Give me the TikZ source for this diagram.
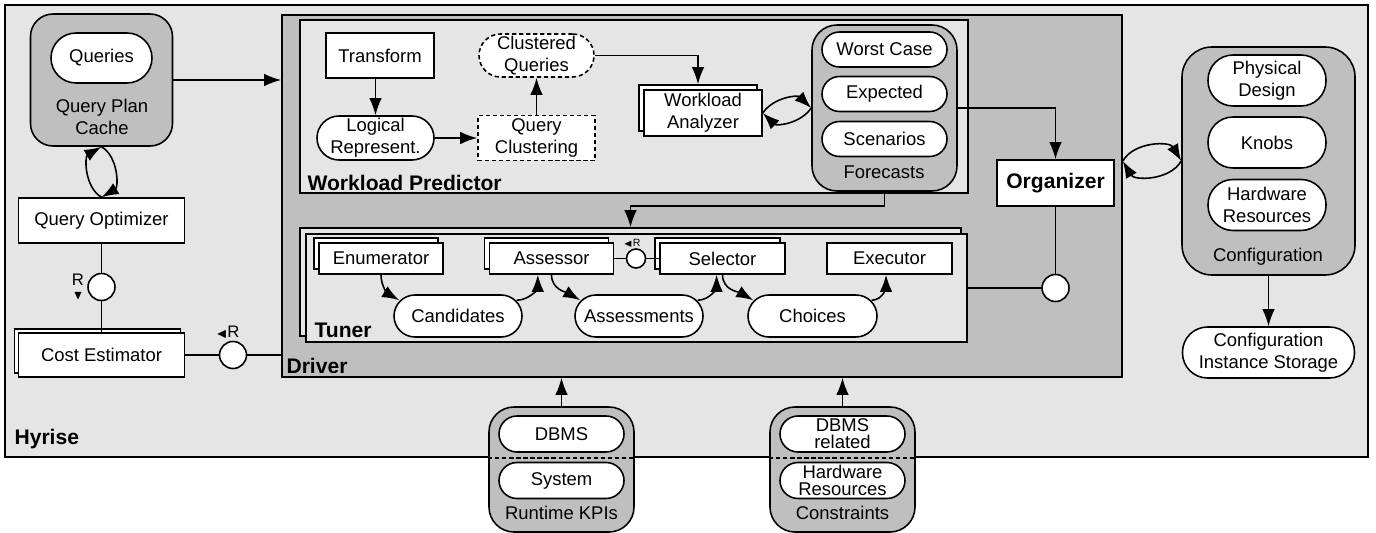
\documentclass[tikz,border=0pt]{standalone}
\usepackage{amsmath,amssymb}
\usepackage{fontspec}
\setmainfont{Liberation Sans}
\usepackage{tikz}
\usetikzlibrary{arrows.meta, positioning, calc, shadows}
\tikzset{
  areabox/.style={
    draw, line width=0.9pt, fill=black!10, inner sep=0pt
  },
  drivebox/.style={
    draw, line width=0.9pt, fill=black!25, inner sep=0pt
  },
  arealabel/.style={
    font=\fontsize{12}{14}\selectfont\bfseries, inner sep=0pt, anchor=base west
  },
  holder/.style={
    draw, line width=0.9pt, fill=black!25, rounded corners=#1, inner sep=0pt
  },
  holder/.default=0.5cm,
  holderlabel/.style={
    font=\fontsize{10.5}{12.3}\selectfont, align=center, inner sep=0pt
  },
  compbox/.style={
    draw, line width=0.9pt, fill=white, align=center, inner sep=1pt,
    font=\fontsize{10.5}{12.3}\selectfont
  },
  stackbox/.style={
    compbox, copy shadow={shadow xshift=-#1, shadow yshift=#1}
  },
  stackbox/.default=0.1cm,
  pill/.style={
    draw, line width=0.9pt, fill=white, align=center, inner sep=1pt,
    rounded corners=#1, font=\fontsize{10.5}{12.3}\selectfont
  },
  pill/.default=0.42cm,
  socket/.style={
    circle, draw, line width=0.9pt, fill=white, inner sep=0pt, minimum size=#1
  },
  socket/.default=0.54cm,
  reqmark/.style={
    font=\fontsize{9.5}{11}\selectfont, align=center, inner sep=0pt
  },
  flow/.style={
    -{Latex[length=3.4mm, width=2.5mm]}, line width=0.9pt
  },
  link/.style={line width=0.9pt},
  fewdash/.style={dash pattern=on 2.4pt off 1.6pt}
}

\begin{document}
\begin{tikzpicture}
  \useasboundingbox (0,0) rectangle (27.52,-10.66);

  % Hyrise area
  \node[areabox, minimum width=27.26cm, minimum height=9.04cm] (hyrise) at (13.73,-4.62) {};
  \node[arealabel] (hyriselbl) at ([shift={(0.2,0.26)}]hyrise.south west) {Hyrise};

  % Driver with workload predictor and tuner
  \node[drivebox, minimum width=16.8cm, minimum height=7.24cm] (driver) at (14.04,-3.92) {};
  \node[arealabel] (driverlbl) at ([shift={(0.1,0.08)}]driver.south west) {Driver};
  \node[areabox, minimum width=13.36cm, minimum height=3.46cm] (wp) at (12.68,-2.13) {};
  \node[arealabel] (wplbl) at ([shift={(0.16,0.06)}]wp.south west) {Workload Predictor};
  \node[areabox, minimum width=13.22cm, minimum height=2.16cm,
    copy shadow={shadow xshift=-0.12cm, shadow yshift=0.12cm}] (tuner) at (12.73,-5.76) {};
  \node[arealabel] (tunerlbl) at ([shift={(0.18,0.1)}]tuner.south west) {Tuner};

  % Query side
  \node[holder=0.45cm, minimum width=2.84cm, minimum height=2.64cm] (qpc) at (2.03,-1.6) {};
  \node[pill=0.5cm, minimum width=2.02cm, minimum height=1.0cm] (queries) at (2.03,-1.16) {Queries};
  \node[holderlabel] (qpclbl) at (2.04,-2.34) {Query Plan\\Cache};
  \node[compbox, minimum width=3.32cm, minimum height=0.9cm] (qo) at (2.03,-4.41) {Query Optimizer};
  \node[socket] (sockqo) at (2.03,-5.74) {};
  \node[reqmark] (reqqo) at (1.56,-5.74) {R\\[-3pt]{\scriptsize$\blacktriangledown$}};
  \node[stackbox=0.08cm, minimum width=3.32cm, minimum height=0.88cm] (ce) at (2.03,-7.1) {Cost Estimator};
  \node[socket] (sockce) at (4.66,-7.1) {};
  \node[reqmark] (reqce) at (4.56,-6.64) {{\scriptsize$\blacktriangleleft$}R};

  % Workload predictor parts
  \node[compbox, minimum width=2.16cm, minimum height=0.9cm] (tf) at (7.6,-1.11) {Transform};
  \node[pill=0.44cm, minimum width=2.34cm, minimum height=0.88cm] (logic) at (7.51,-2.76) {Logical\\Represent.};
  \node[compbox, fewdash, minimum width=2.34cm, minimum height=0.9cm] (qclust) at (10.73,-2.76) {Query\\Clustering};
  \node[pill=0.43cm, fewdash, minimum width=2.3cm, minimum height=0.86cm] (cq) at (10.73,-1.11) {Clustered\\Queries};
  \node[stackbox, minimum width=2.36cm, minimum height=0.92cm] (wa) at (14.06,-2.26) {Workload\\Analyzer};

  \node[holder, minimum width=2.9cm, minimum height=3.32cm] (fc) at (17.69,-2.16) {};
  \node[pill=0.35cm, minimum width=2.5cm, minimum height=0.7cm] (worst) at (17.69,-0.99) {Worst Case};
  \node[pill=0.35cm, minimum width=2.5cm, minimum height=0.7cm] (expect) at (17.69,-1.88) {Expected};
  \node[pill=0.35cm, minimum width=2.5cm, minimum height=0.7cm] (scen) at (17.69,-2.78) {Scenarios};
  \node[holderlabel] (fclbl) at (17.68,-3.44) {Forecasts};

  \node[compbox, font=\fontsize{12}{14}\selectfont\bfseries, minimum width=2.34cm,
    minimum height=0.92cm] (org) at (21.11,-3.66) {Organizer};
  \node[socket] (sockorg) at (21.11,-5.76) {};

  % Tuner parts
  \node[stackbox, minimum width=2.48cm, minimum height=0.62cm] (enum) at (7.62,-5.17) {Enumerator};
  \node[stackbox, minimum width=2.48cm, minimum height=0.62cm] (assr) at (11.03,-5.17) {Assessor};
  \node[stackbox, minimum width=2.5cm, minimum height=0.62cm] (sel) at (14.45,-5.17) {Selector};
  \node[compbox, minimum width=2.5cm, minimum height=0.62cm] (exec) at (17.79,-5.17) {Executor};
  \node[pill, minimum width=2.56cm, minimum height=0.84cm] (cand) at (9.16,-6.32) {Candidates};
  \node[pill, minimum width=2.56cm, minimum height=0.84cm] (asmt) at (12.78,-6.32) {Assessments};
  \node[pill, minimum width=2.58cm, minimum height=0.84cm] (choice) at (16.25,-6.32) {Choices};
  \node[socket=0.38cm] (socksel) at (12.72,-5.17) {};
  \node[reqmark, font=\fontsize{6}{7}\selectfont] (reqsel) at (12.64,-4.86) {{\tiny$\blacktriangleleft$}R};

  % Configuration
  \node[holder=0.6cm, minimum width=3.46cm, minimum height=4.56cm] (cfg) at (25.37,-3.22) {};
  \node[pill=0.5cm, minimum width=2.36cm, minimum height=1.02cm] (phys) at (25.34,-1.61) {Physical\\Design};
  \node[pill=0.5cm, minimum width=2.36cm, minimum height=1.02cm] (knobs) at (25.34,-2.85) {Knobs};
  \node[pill=0.5cm, minimum width=2.36cm, minimum height=1.02cm] (hwres) at (25.34,-4.1) {Hardware\\Resources};
  \node[holderlabel] (cfglbl) at (25.36,-5.14) {Configuration};
  \node[pill=0.5cm, minimum width=3.44cm, minimum height=1.02cm] (cis) at (25.37,-7.05) {Configuration\\Instance Storage};

  % Inputs below the system
  \node[holder, minimum width=2.9cm, minimum height=2.5cm] (kpi) at (11.23,-9.39) {};
  \node[pill=0.36cm, minimum width=2.5cm, minimum height=0.72cm] (kpidbms) at (11.23,-8.68) {DBMS};
  \node[pill=0.36cm, minimum width=2.5cm, minimum height=0.72cm] (kpisys) at (11.23,-9.61) {System};
  \node[holderlabel] (kpilbl) at (11.23,-10.26) {Runtime KPIs};

  \node[holder, minimum width=2.9cm, minimum height=2.5cm] (cons) at (16.85,-9.39) {};
  \node[pill=0.36cm, inner ysep=0pt, font=\fontsize{10.5}{9.6}\selectfont,
    minimum width=2.5cm, minimum height=0.72cm] (consdbms) at (16.85,-8.68) {DBMS\\related};
  \node[pill=0.36cm, inner ysep=0pt, font=\fontsize{10.5}{9.6}\selectfont,
    minimum width=2.5cm, minimum height=0.72cm] (conshw) at (16.85,-9.61) {Hardware\\Resources};
  \node[holderlabel] (conslbl) at (16.85,-10.26) {Constraints};

  \draw[line width=0.9pt, fewdash] (kpi.west |- hyrise.south) -- (kpi.east |- hyrise.south);
  \draw[line width=0.9pt, fewdash] (cons.west |- hyrise.south) -- (cons.east |- hyrise.south);

  % Connections
  \draw[flow] (qpc.east) -- (qpc.east -| driver.west);
  \draw[flow] (qo.north) to[bend left=60] (qpc.south);
  \draw[flow] (qpc.south) to[bend left=60] (qo.north);
  \draw[link] (qo.south) -- (sockqo) -- (ce.north);
  \draw[link] (ce.east) -- (sockce) -- (sockce -| driver.west);

  \draw[flow] (tf.south -| logic.north) -- (logic.north);
  \draw[flow] (logic.east) -- (qclust.west);
  \draw[flow] (qclust.north) -- (cq.south);
  \draw[flow] (cq.east) -| ([shift={(-0.1,0.1)}]wa.north);
  \draw[flow] (wa.east) to[bend left=50] (fc.west);
  \draw[flow] (fc.west) to[bend left=50] (wa.east);
  \draw[flow] (fc.east) -| (org.north);
  \draw[flow] (fc.south) -- ++(0,-0.28) -| ([shift={(-0.12,0.12)}]tuner.north);
  \draw[link] (org.south) -- (sockorg) -- (tuner.east);

  \draw[link] (assr.east) -- (socksel) -- (sel.west);
  \draw[flow] (enum.south) to[out=-90, in=150] ([shift={(0.12,-0.12)}]cand.north west);
  \draw[flow] ([shift={(-0.12,-0.12)}]cand.north east) to[out=0, in=-90] (assr.230);
  \draw[flow] (assr.south) to[out=-90, in=150] ([shift={(0.12,-0.12)}]asmt.north west);
  \draw[flow] ([shift={(-0.12,-0.12)}]asmt.north east) to[out=0, in=-90] (sel.250);
  \draw[flow] (sel.south) to[out=-90, in=150] ([shift={(0.12,-0.12)}]choice.north west);
  \draw[flow] ([shift={(-0.12,-0.12)}]choice.north east) to[out=0, in=-90] (exec.258);

  \draw[flow] (driver.east |- cfg.west) to[bend left=60] (cfg.west);
  \draw[flow] (cfg.west) to[bend left=60] (driver.east |- cfg.west);
  \draw[flow] (cfg.south) -- (cis.north);

  \draw[flow] (kpi.north) -- (kpi.north |- driver.south);
  \draw[flow] (cons.north) -- (cons.north |- driver.south);
\end{tikzpicture}
\end{document}
